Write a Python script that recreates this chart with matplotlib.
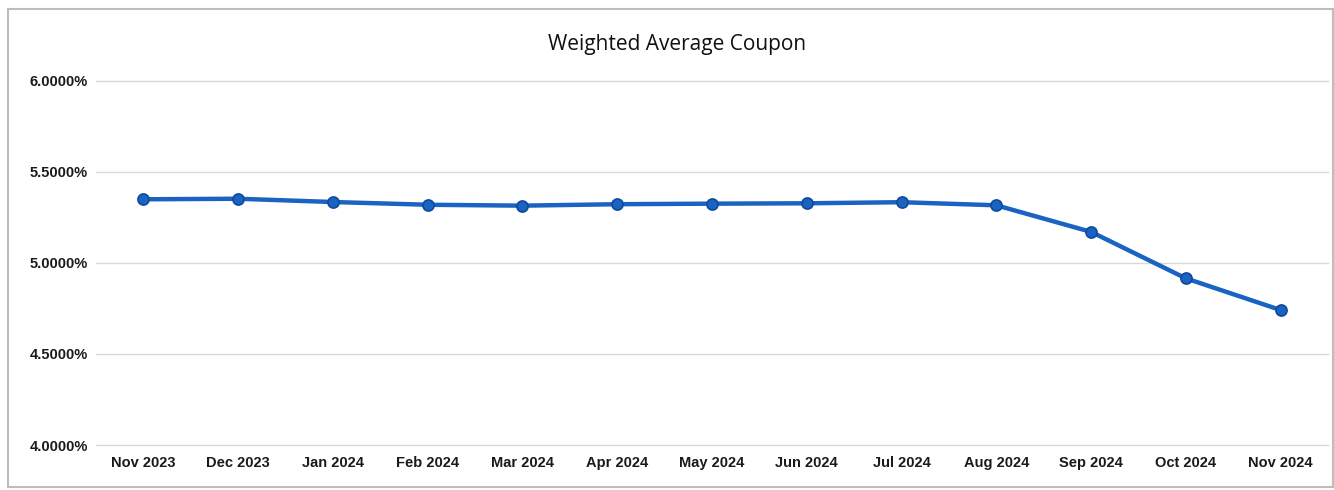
import matplotlib
matplotlib.use("Agg")
import matplotlib.pyplot as plt
from matplotlib.patches import Rectangle
from matplotlib.ticker import FuncFormatter

months = ["Nov 2023", "Dec 2023", "Jan 2024", "Feb 2024", "Mar 2024", "Apr 2024",
          "May 2024", "Jun 2024", "Jul 2024", "Aug 2024", "Sep 2024", "Oct 2024", "Nov 2024"]
wac = [5.349, 5.352, 5.334, 5.319, 5.314, 5.322, 5.325, 5.327, 5.333, 5.316, 5.170, 4.915, 4.741]
yticks = [4.0, 4.5, 5.0, 5.5, 6.0]

fig = plt.figure(figsize=(13.34, 4.9), dpi=100)
ax = fig.add_axes([0.072, 0.0918, 0.9235, 0.7435])

x = list(range(len(months)))
ax.plot(x, wac, color="#1a63c2", linewidth=3.2, marker="o", markersize=8,
        markerfacecolor="#1a63c2", markeredgecolor="#0f4a9a", markeredgewidth=1.2,
        solid_joinstyle="round", zorder=3)

ax.set_xlim(-0.5, len(months) - 0.5)
ax.set_ylim(4.0, 6.0)
ax.set_yticks(yticks)
ax.yaxis.set_major_formatter(FuncFormatter(lambda v, p: f"{v:.4f}%"))
ax.set_xticks(x)
ax.set_xticklabels(months)
ax.grid(axis="y", color="#d9d9d9", linewidth=1)
for gl in ax.get_ygridlines():
    gl.set_clip_on(False)
ax.set_axisbelow(True)
for s in ax.spines.values():
    s.set_visible(False)
ax.tick_params(axis="both", length=0)
ax.tick_params(axis="x", pad=8)
ax.tick_params(axis="y", pad=6)
for lab in ax.get_xticklabels() + ax.get_yticklabels():
    lab.set_fontfamily("Liberation Sans")
    lab.set_fontsize(10.5)
    lab.set_fontweight("bold")
    lab.set_color("#1a1a1a")

fig.text(0.5075, 0.91, "Weighted Average Coupon", ha="center", va="center",
         fontsize=15, fontfamily="Open Sans", color="#111111")

fig.patches.append(Rectangle((0.006, 0.006), 0.993, 0.976, transform=fig.transFigure,
                             fill=False, edgecolor="#bdbdbd", linewidth=1.5))

fig.savefig("out.png", dpi=100, facecolor="white")
